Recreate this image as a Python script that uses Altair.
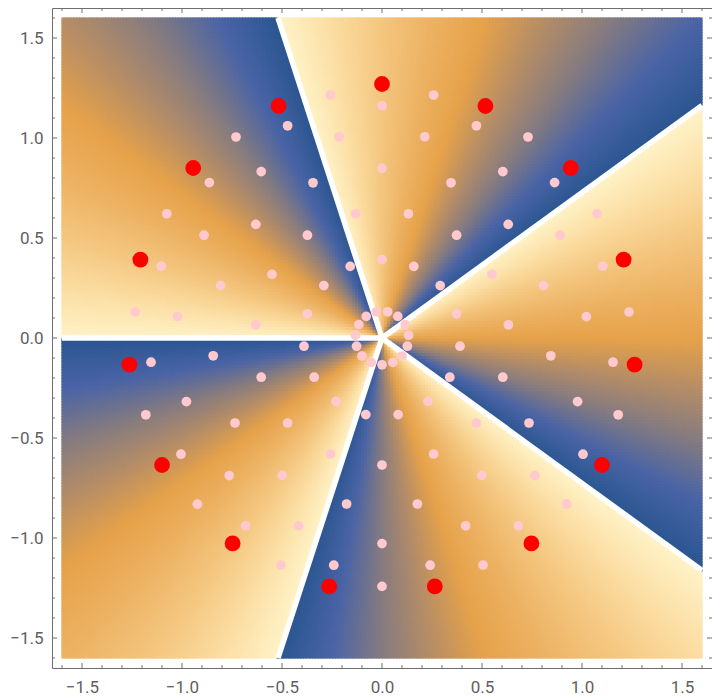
import numpy as np
import pandas as pd
import altair as alt

alt.data_transformers.disable_max_rows()

# ---- data ----
# small pink points, seven rings of 15
pink_x = [0.133, 0.116, 0.079, 0.028, -0.028, -0.079, -0.116, -0.133, -0.127, -0.100, -0.054, 0.000, 0.054, 0.100, 0.127,
          0.373, 0.291, 0.159, 0.000, -0.159, -0.291, -0.373, -0.390, -0.339, -0.230, -0.081, 0.081, 0.230, 0.339, 0.390,
          0.632, 0.550, 0.373, 0.132, -0.132, -0.373, -0.550, -0.632, -0.604, -0.472, -0.258, 0.000, 0.258, 0.472, 0.604,
          0.807, 0.631, 0.345, 0.000, -0.345, -0.631, -0.807, -0.844, -0.735, -0.499, -0.177, 0.177, 0.499, 0.735, 0.844,
          1.022, 0.890, 0.604, 0.214, -0.214, -0.604, -0.890, -1.022, -0.978, -0.764, -0.418, 0.000, 0.418, 0.764, 0.978,
          1.104, 0.863, 0.472, 0.000, -0.472, -0.863, -1.104, -1.155, -1.005, -0.682, -0.241, 0.241, 0.682, 1.005, 1.155,
          1.235, 1.076, 0.730, 0.258, -0.258, -0.730, -1.076, -1.235, -1.181, -0.923, -0.505, 0.000, 0.505, 0.923, 1.181]
pink_y = [0.014, 0.067, 0.108, 0.131, 0.131, 0.108, 0.067, 0.014, -0.041, -0.090, -0.122, -0.134, -0.122, -0.090, -0.041,
          0.121, 0.262, 0.358, 0.392, 0.358, 0.262, 0.121, -0.041, -0.196, -0.317, -0.383, -0.383, -0.317, -0.196, -0.041,
          0.066, 0.318, 0.514, 0.621, 0.621, 0.514, 0.318, 0.066, -0.196, -0.425, -0.580, -0.635, -0.580, -0.425, -0.196,
          0.262, 0.568, 0.776, 0.849, 0.776, 0.568, 0.262, -0.089, -0.425, -0.687, -0.830, -0.830, -0.687, -0.425, -0.089,
          0.107, 0.514, 0.832, 1.006, 1.006, 0.832, 0.514, 0.107, -0.318, -0.688, -0.939, -1.028, -0.939, -0.688, -0.318,
          0.359, 0.777, 1.061, 1.161, 1.061, 0.777, 0.359, -0.121, -0.581, -0.939, -1.136, -1.136, -0.939, -0.581, -0.121,
          0.130, 0.621, 1.005, 1.215, 1.215, 1.005, 0.621, 0.130, -0.384, -0.831, -1.135, -1.242, -1.135, -0.831, -0.384]

# large red points
red_x = [1.208, 0.944, 0.517, 0.000, -0.517, -0.944, -1.208, -1.263, -1.100, -0.747, -0.264, 0.264, 0.747, 1.100, 1.263]
red_y = [0.392, 0.850, 1.160, 1.270, 1.160, 0.850, 0.392, -0.133, -0.635, -1.027, -1.242, -1.242, -1.027, -0.635, -0.133]

# branch cut directions (degrees) and centre
cut_angles = [36, 108, 180, 252, 324]
center_x = [0.0]
center_y = [0.0]

major_ticks = [-1.5, -1.0, -0.5, 0.0, 0.5, 1.0, 1.5]
minor_ticks = [-1.6, -1.4, -1.3, -1.2, -1.1, -0.9, -0.8, -0.7, -0.6, -0.4, -0.3, -0.2, -0.1,
               0.1, 0.2, 0.3, 0.4, 0.6, 0.7, 0.8, 0.9, 1.1, 1.2, 1.3, 1.4, 1.6]

# colour gradient (phase -pi .. pi)
grad_stops = [0.0, 0.125, 0.25, 0.375, 0.5, 0.625, 0.75, 0.875, 1.0]
grad_colors = ["#2A5690", "#4A64A6", "#857B80", "#B68D66", "#E6A24A",
               "#ECB263", "#F4C67F", "#FBDDA2", "#FFF3C8"]

# ---- background: phase of z^5 on a grid ----
R = 1.6
n = 220
d = 2 * R / n
cx = -R + d * (np.arange(n) + 0.5)
ii, jj = np.meshgrid(np.arange(n), np.arange(n))
ii = ii.ravel(); jj = jj.ravel()
zz = cx[ii] + 1j * cx[jj]
tval = (np.angle(zz ** 5) + np.pi) / (2 * np.pi)
bg = pd.DataFrame({"i": ii, "j": jj, "t": np.round(tval, 4)})
eps = 0.003

ang = np.radians(cut_angles)
reach = R / np.maximum(np.abs(np.cos(ang)), np.abs(np.sin(ang)))
cuts = pd.DataFrame({"x": 0.0, "y": 0.0, "x2": reach * np.cos(ang), "y2": reach * np.sin(ang)})

pink = pd.DataFrame({"x": pink_x, "y": pink_y})
red = pd.DataFrame({"x": red_x, "y": red_y})
center = pd.DataFrame({"x": center_x, "y": center_y})
majors = pd.DataFrame({"v": major_ticks})
minors = pd.DataFrame({"v": minor_ticks})

W = H = 660
DOM = [-1.65, 1.65]
FONT = "Roboto"
FRAME = "#6e6e6e"


def axis(orient):
    return alt.Axis(values=major_ticks, format=".1f", ticks=False, domain=False, grid=False,
                    labelFont=FONT, labelFontSize=17, labelColor="#5f5f5f",
                    labelPadding=11 if orient == "x" else 9, labelFlush=False,
                    labelOverlap=False, title=None)


def X(f):
    return alt.X(f"{f}:Q", scale=alt.Scale(domain=DOM, nice=False, zero=False), axis=axis("x"))


def Y(f):
    return alt.Y(f"{f}:Q", scale=alt.Scale(domain=DOM, nice=False, zero=False), axis=axis("y"))


bg_layer = alt.Chart(bg).transform_calculate(
    x=f"{-R} + datum.i * {d} - {eps}",
    x2=f"{-R} + (datum.i + 1) * {d} + {eps}",
    y=f"{-R} + datum.j * {d} - {eps}",
    y2=f"{-R} + (datum.j + 1) * {d} + {eps}",
).mark_rect(strokeWidth=0).encode(
    x=X("x"), x2="x2:Q", y=Y("y"), y2="y2:Q",
    color=alt.Color("t:Q", scale=alt.Scale(domain=grad_stops, range=grad_colors, interpolate="rgb"),
                    legend=None),
)

cut_layer = alt.Chart(cuts).mark_rule(color="white", strokeWidth=5.5).encode(
    x=X("x"), y=Y("y"), x2="x2:Q", y2="y2:Q")

center_layer = alt.Chart(center).mark_circle(color="white", size=60, opacity=1).encode(x=X("x"), y=Y("y"))

pink_layer = alt.Chart(pink).mark_circle(color="#FFC9CD", size=95, opacity=1).encode(x=X("x"), y=Y("y"))

red_layer = alt.Chart(red).mark_circle(color="#FF0000", size=250, opacity=1).encode(x=X("x"), y=Y("y"))

tick_layers = []
for df, ln in ((majors, 5), (minors, 3)):
    tick_layers.append(alt.Chart(df).mark_rule(color=FRAME, strokeWidth=1).encode(
        x=X("v"), y=alt.value(H), y2=alt.value(H - ln)))
    tick_layers.append(alt.Chart(df).mark_rule(color=FRAME, strokeWidth=1).encode(
        x=X("v"), y=alt.value(0), y2=alt.value(ln)))
    tick_layers.append(alt.Chart(df).mark_rule(color=FRAME, strokeWidth=1).encode(
        y=Y("v"), x=alt.value(0), x2=alt.value(ln)))
    tick_layers.append(alt.Chart(df).mark_rule(color=FRAME, strokeWidth=1).encode(
        y=Y("v"), x=alt.value(W), x2=alt.value(W - ln)))

chart = alt.layer(bg_layer, cut_layer, center_layer, pink_layer, red_layer, *tick_layers).properties(
    width=W, height=H,
    padding={"left": 44, "top": 0, "right": 0, "bottom": 32},
    autosize=alt.AutoSizeParams(type="none"),
).configure_view(stroke=FRAME, strokeWidth=1)

chart.save("out.html", embed_options={"renderer": "svg", "actions": False})
